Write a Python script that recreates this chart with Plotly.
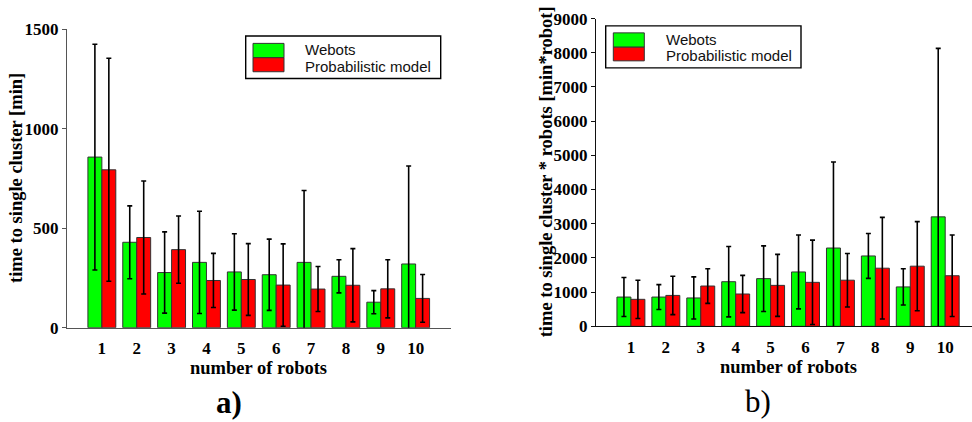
import plotly.graph_objects as go

# ---- data -------------------------------------------------------------
robots = [1, 2, 3, 4, 5, 6, 7, 8, 9, 10]
tick_labels = ["1", "2", "3", "4", "5", "6", "7", "8", "9", "10"]

# a) time to single cluster [min]
webots_time = [857, 429, 277, 328, 280, 266, 328, 258, 128, 320]
webots_time_sd = [567, 183, 204, 257, 192, 179, 361, 83, 58, 492]
model_time = [793, 453, 392, 237, 242, 214, 194, 213, 195, 147]
model_time_sd = [560, 284, 169, 136, 180, 207, 113, 184, 146, 120]

# b) time to single cluster * robots [min*robot]
webots_work = [856, 856, 830, 1305, 1395, 1590, 2290, 2058, 1153, 3201]
webots_work_sd = [570, 364, 615, 1028, 959, 1080, 2514, 656, 530, 4927]
model_work = [790, 904, 1179, 946, 1198, 1287, 1349, 1700, 1759, 1480]
model_work_sd = [559, 562, 507, 545, 907, 1233, 782, 1485, 1303, 1191]

series_names = ["Webots", "Probabilistic model"]
series_colors = ["#00ff00", "#ff0000"]

W, H = 972, 422


def px(x):
    return x / W


def py(y):
    return 1 - y / H


SERIF = "Liberation Serif"
SANS = "Liberation Sans"

fig = go.Figure()


def add_bars(xa, ya, values, errors, name, color, offsetgroup):
    fig.add_trace(go.Bar(
        x=robots, y=values, name=name, xaxis=xa, yaxis=ya,
        offsetgroup=offsetgroup, showlegend=False,
        marker=dict(color=color, line=dict(color="#333333", width=1)),
        error_y=dict(type="data", array=errors, visible=True,
                     color="black", thickness=1.6, width=2.5),
    ))


add_bars("x", "y", webots_time, webots_time_sd, series_names[0], series_colors[0], "w")
add_bars("x", "y", model_time, model_time_sd, series_names[1], series_colors[1], "m")
add_bars("x2", "y2", webots_work, webots_work_sd, series_names[0], series_colors[0], "w")
add_bars("x2", "y2", model_work, model_work_sd, series_names[1], series_colors[1], "m")

tickfont = dict(family=SERIF, size=17, color="black", weight="bold")

# horizontal axes: invisible ticks only push the labels a little lower
x_common = dict(tickmode="array", tickvals=robots, ticktext=tick_labels,
                ticks="outside", ticklen=5, tickcolor="rgba(0,0,0,0)",
                showgrid=False, zeroline=False, showline=True,
                linewidth=1, tickfont=tickfont)
# vertical axes
y_common = dict(showgrid=False, zeroline=False, showline=True, linewidth=1,
                ticks="outside", ticklen=4, tickwidth=1, tickfont=tickfont,
                ticklabelstandoff=0)

fig.update_layout(
    width=W, height=H,
    margin=dict(l=0, r=0, t=0, b=0),
    paper_bgcolor="white", plot_bgcolor="white",
    barmode="group", bargap=0.2, bargroupgap=0,
    xaxis=dict(domain=[px(67), px(450.5)], range=[0, 11], anchor="y",
               linecolor="#555555", **x_common),
    yaxis=dict(domain=[py(333.7), py(21)], range=[0, 1500], anchor="x",
               tickvals=[0, 500, 1000, 1500], linecolor="#555555",
               tickcolor="#555555", **y_common),
    xaxis2=dict(domain=[px(596), 1], range=[0, (W - 596) / 34.92], anchor="y2",
                linecolor="#111111", **x_common),
    yaxis2=dict(domain=[py(332.3), py(10)], range=[0, 9000], anchor="x2",
                tickvals=list(range(0, 9001, 1000)), linecolor="#111111",
                tickcolor="#111111", **y_common),
)

title_font = dict(family=SERIF, size=18.5, color="black", weight="bold")

annotations = [
    dict(text="time to single cluster [min]", x=px(16), y=py(177), textangle=-90,
         font=title_font),
    dict(text="number of robots", x=px(258.5), y=py(376), font=title_font),
    dict(text="time to single cluster * robots [min*robot]", x=px(546), y=py(171),
         textangle=-90, font=title_font),
    dict(text="number of robots", x=px(788), y=py(375), font=title_font),
    dict(text="a)", x=px(229), y=py(412), font=dict(family=SERIF, size=31,
                                                     color="black", weight="bold")),
    dict(text="b)", x=px(758), y=py(411), font=dict(family=SERIF, size=31,
                                                     color="black")),
]

shapes = []


def legend_box(box, swatch_x, swatch_y, text_x, text_y):
    x0, y0, x1, y1 = box
    shapes.append(dict(type="rect", xref="paper", yref="paper",
                       x0=px(x0), x1=px(x1), y0=py(y1), y1=py(y0),
                       line=dict(color="black", width=1.4), fillcolor="white"))
    for i, color in enumerate(series_colors):
        shapes.append(dict(type="rect", xref="paper", yref="paper",
                           x0=px(swatch_x[0]), x1=px(swatch_x[1]),
                           y0=py(swatch_y[i + 1]), y1=py(swatch_y[i]),
                           line=dict(color="#333333", width=1), fillcolor=color))
        annotations.append(dict(text=series_names[i], x=px(text_x), y=py(text_y[i]),
                                xanchor="left",
                                font=dict(family=SANS, size=15, color="#111111")))


legend_box((245.7, 28.3, 440.7, 72.7), (253, 284), (36, 51, 65.7), 302.7, (42.8, 59.8))
legend_box((605.7, 17.7, 801, 61.7), (613.3, 644.3), (25, 40, 54.3), 664, (32.2, 48.4))

for a in annotations:
    a.setdefault("xref", "paper")
    a.setdefault("yref", "paper")
    a.setdefault("xanchor", "center")
    a.setdefault("yanchor", "middle")
    a.setdefault("showarrow", False)

fig.update_layout(annotations=annotations, shapes=shapes)

fig.write_html("out.html")
